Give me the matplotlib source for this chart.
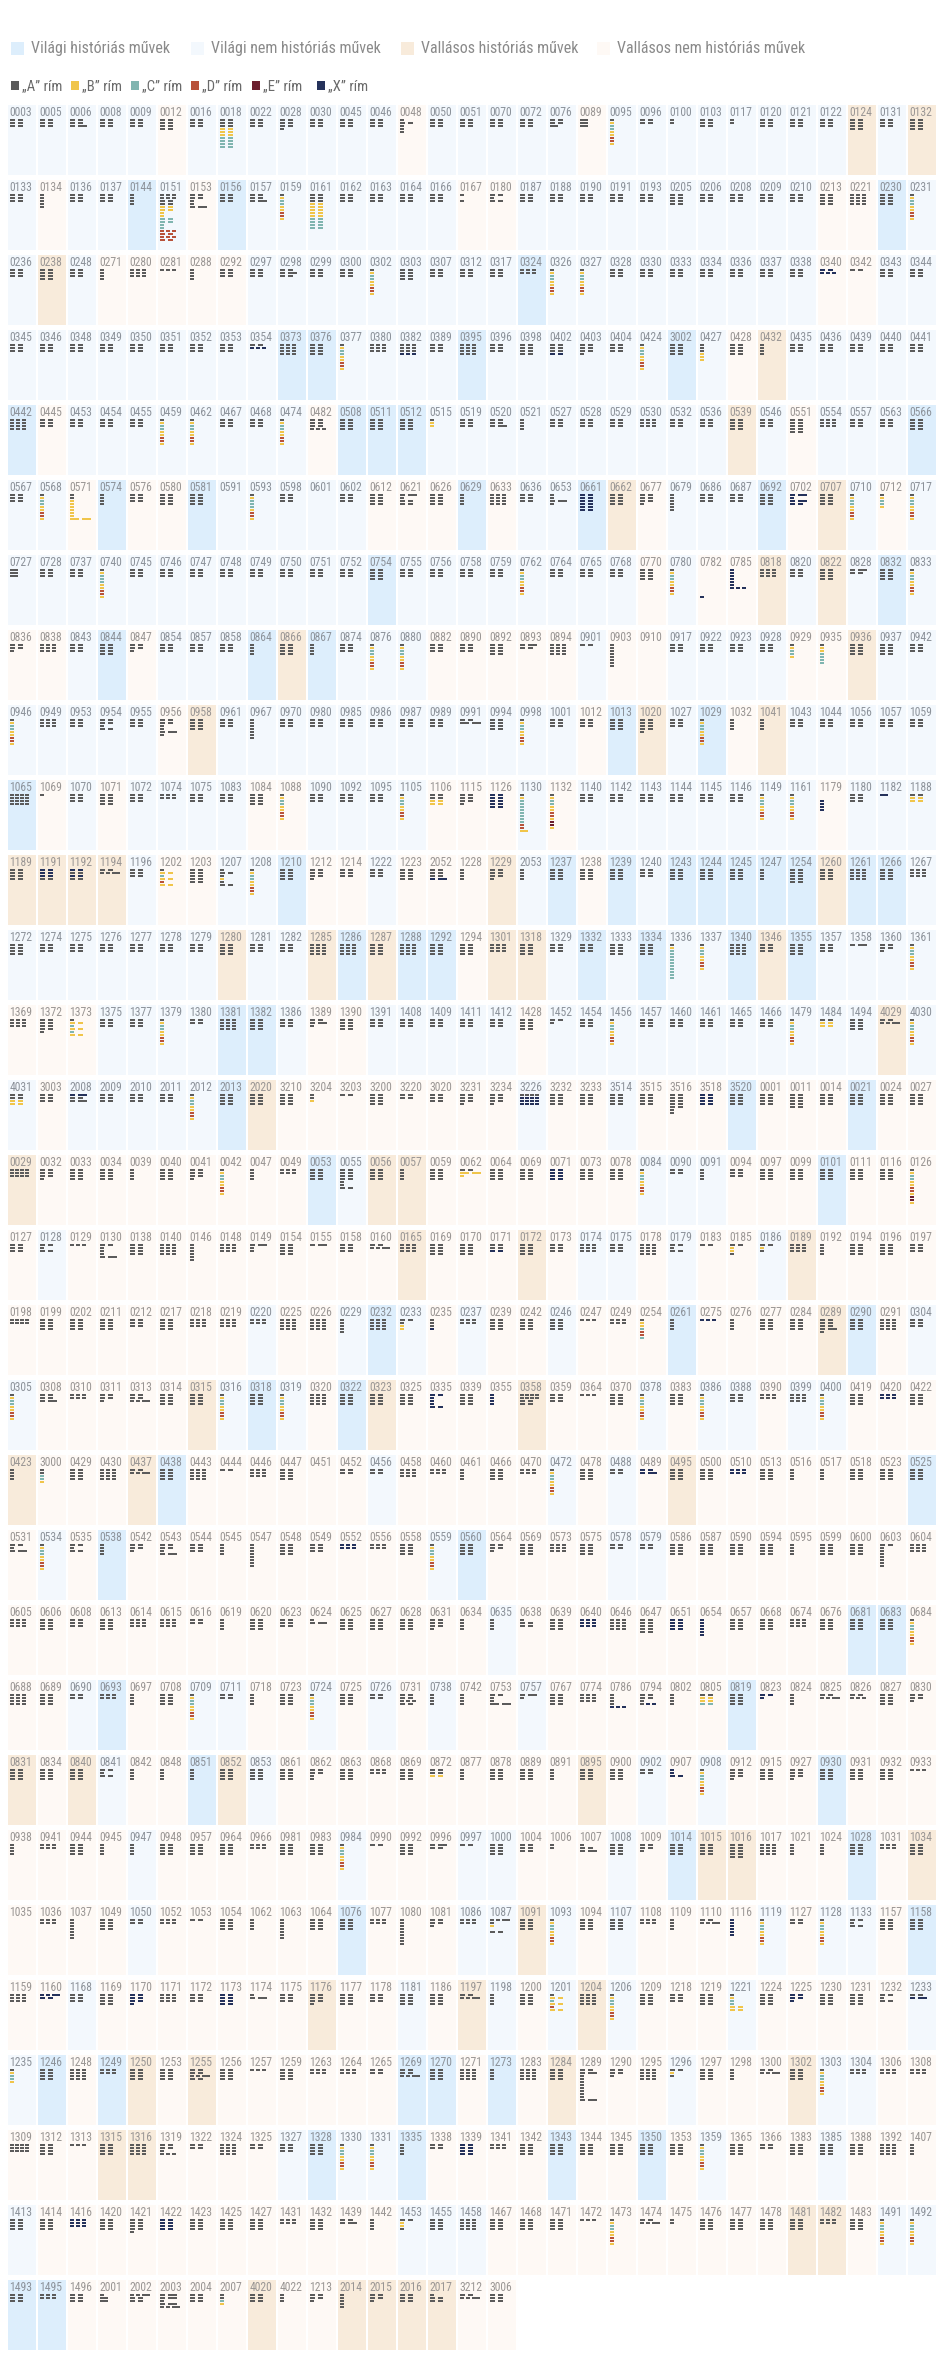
import matplotlib
matplotlib.use("Agg")
import matplotlib.pyplot as plt
from matplotlib import font_manager

# ---- data -------------------------------------------------------------
CAT_NAMES = ["Világi históriás művek", "Világi nem históriás művek",
             "Vallásos históriás művek", "Vallásos nem históriás művek"]
CAT_KEYS = ["H", "V", "R", "N"]
CAT_COLORS = {"H": "#ddeefc", "V": "#f3f8fd", "R": "#f8ebdb", "N": "#fef9f5"}

RHYME_NAMES = ["„A” rím", "„B” rím", "„C” rím", "„D” rím", "„E” rím", "„X” rím"]
RHYME_KEYS = ["a", "b", "c", "d", "e", "x"]
RHYME_COLORS = {"a": "#5b5b5b", "b": "#f0c54a", "c": "#80b5b0",
                "d": "#b8523a", "e": "#6b1e2e", "x": "#25325b"}

ST = "a/b/c/c/b/b/d/d/b"   # the frequent coloured stack

LABELS = [
    "0003 0005 0006 0008 0009 0012 0016 0018 0022 0028 0030 0045 0046 0048 0050 0051 0070 0072 0076 0089 0095 0096 0100 0103 0117 0120 0121 0122 0124 0131 0132",
    "0133 0134 0136 0137 0144 0151 0153 0156 0157 0159 0161 0162 0163 0164 0166 0167 0180 0187 0188 0190 0191 0193 0205 0206 0208 0209 0210 0213 0221 0230 0231",
    "0236 0238 0248 0271 0280 0281 0288 0292 0297 0298 0299 0300 0302 0303 0307 0312 0317 0324 0326 0327 0328 0330 0333 0334 0336 0337 0338 0340 0342 0343 0344",
    "0345 0346 0348 0349 0350 0351 0352 0353 0354 0373 0376 0377 0380 0382 0389 0395 0396 0398 0402 0403 0404 0424 3002 0427 0428 0432 0435 0436 0439 0440 0441",
    "0442 0445 0453 0454 0455 0459 0462 0467 0468 0474 0482 0508 0511 0512 0515 0519 0520 0521 0527 0528 0529 0530 0532 0536 0539 0546 0551 0554 0557 0563 0566",
    "0567 0568 0571 0574 0576 0580 0581 0591 0593 0598 0601 0602 0612 0621 0626 0629 0633 0636 0653 0661 0662 0677 0679 0686 0687 0692 0702 0707 0710 0712 0717",
    "0727 0728 0737 0740 0745 0746 0747 0748 0749 0750 0751 0752 0754 0755 0756 0758 0759 0762 0764 0765 0768 0770 0780 0782 0785 0818 0820 0822 0828 0832 0833",
    "0836 0838 0843 0844 0847 0854 0857 0858 0864 0866 0867 0874 0876 0880 0882 0890 0892 0893 0894 0901 0903 0910 0917 0922 0923 0928 0929 0935 0936 0937 0942",
    "0946 0949 0953 0954 0955 0956 0958 0961 0967 0970 0980 0985 0986 0987 0989 0991 0994 0998 1001 1012 1013 1020 1027 1029 1032 1041 1043 1044 1056 1057 1059",
    "1065 1069 1070 1071 1072 1074 1075 1083 1084 1088 1090 1092 1095 1105 1106 1115 1126 1130 1132 1140 1142 1143 1144 1145 1146 1149 1161 1179 1180 1182 1188",
    "1189 1191 1192 1194 1196 1202 1203 1207 1208 1210 1212 1214 1222 1223 2052 1228 1229 2053 1237 1238 1239 1240 1243 1244 1245 1247 1254 1260 1261 1266 1267",
    "1272 1274 1275 1276 1277 1278 1279 1280 1281 1282 1285 1286 1287 1288 1292 1294 1301 1318 1329 1332 1333 1334 1336 1337 1340 1346 1355 1357 1358 1360 1361",
    "1369 1372 1373 1375 1377 1379 1380 1381 1382 1386 1389 1390 1391 1408 1409 1411 1412 1428 1452 1454 1456 1457 1460 1461 1465 1466 1479 1484 1494 4029 4030",
    "4031 3003 2008 2009 2010 2011 2012 2013 2020 3210 3204 3203 3200 3220 3020 3231 3234 3226 3232 3233 3514 3515 3516 3518 3520 0001 0011 0014 0021 0024 0027",
    "0029 0032 0033 0034 0039 0040 0041 0042 0047 0049 0053 0055 0056 0057 0059 0062 0064 0069 0071 0073 0078 0084 0090 0091 0094 0097 0099 0101 0111 0116 0126",
    "0127 0128 0129 0130 0138 0140 0146 0148 0149 0154 0155 0158 0160 0165 0169 0170 0171 0172 0173 0174 0175 0178 0179 0183 0185 0186 0189 0192 0194 0196 0197",
    "0198 0199 0202 0211 0212 0217 0218 0219 0220 0225 0226 0229 0232 0233 0235 0237 0239 0242 0246 0247 0249 0254 0261 0275 0276 0277 0284 0289 0290 0291 0304",
    "0305 0308 0310 0311 0313 0314 0315 0316 0318 0319 0320 0322 0323 0325 0335 0339 0355 0358 0359 0364 0370 0378 0383 0386 0388 0390 0399 0400 0419 0420 0422",
    "0423 3000 0429 0430 0437 0438 0443 0444 0446 0447 0451 0452 0456 0458 0460 0461 0466 0470 0472 0478 0488 0489 0495 0500 0510 0513 0516 0517 0518 0523 0525",
    "0531 0534 0535 0538 0542 0543 0544 0545 0547 0548 0549 0552 0556 0558 0559 0560 0564 0569 0573 0575 0578 0579 0586 0587 0590 0594 0595 0599 0600 0603 0604",
    "0605 0606 0608 0613 0614 0615 0616 0619 0620 0623 0624 0625 0627 0628 0631 0634 0635 0638 0639 0640 0646 0647 0651 0654 0657 0668 0674 0676 0681 0683 0684",
    "0688 0689 0690 0693 0697 0708 0709 0711 0718 0723 0724 0725 0726 0731 0738 0742 0753 0757 0767 0774 0786 0794 0802 0805 0819 0823 0824 0825 0826 0827 0830",
    "0831 0834 0840 0841 0842 0848 0851 0852 0853 0861 0862 0863 0868 0869 0872 0877 0878 0889 0891 0895 0900 0902 0907 0908 0912 0915 0927 0930 0931 0932 0933",
    "0938 0941 0944 0945 0947 0948 0957 0964 0966 0981 0983 0984 0990 0992 0996 0997 1000 1004 1006 1007 1008 1009 1014 1015 1016 1017 1021 1024 1028 1031 1034",
    "1035 1036 1037 1049 1050 1052 1053 1054 1062 1063 1064 1076 1077 1080 1081 1086 1087 1091 1093 1094 1107 1108 1109 1110 1116 1119 1127 1128 1133 1157 1158",
    "1159 1160 1168 1169 1170 1171 1172 1173 1174 1175 1176 1177 1178 1181 1186 1197 1198 1200 1201 1204 1206 1209 1218 1219 1221 1224 1225 1230 1231 1232 1233",
    "1235 1246 1248 1249 1250 1253 1255 1256 1257 1259 1263 1264 1265 1269 1270 1271 1273 1283 1284 1289 1290 1295 1296 1297 1298 1300 1302 1303 1304 1306 1308",
    "1309 1312 1313 1315 1316 1319 1322 1324 1325 1327 1328 1330 1331 1335 1338 1339 1341 1342 1343 1344 1345 1350 1353 1359 1365 1366 1383 1385 1388 1392 1407",
    "1413 1414 1416 1420 1421 1422 1423 1425 1427 1431 1432 1439 1442 1453 1455 1458 1467 1468 1471 1472 1473 1474 1475 1476 1477 1478 1481 1482 1483 1491 1492",
    "1493 1495 1496 2001 2002 2003 2004 2007 4020 4022 1213 2014 2015 2016 2017 3212 3006",
]

# H = világi históriás, V = világi nem hist., R = vallásos hist., N = vallásos nem hist.
CATEGORIES = [
    "VVVVVNVVVVVVVNVVVVVNVVVVVVVVRVR",
    "VNVVHVNHVVVVVVVNNVVVVVVVVVVNNHV",
    "VRVNNNNNVVVVVVVVVHVVVVVVVVVNNVV",
    "VVVVVVVVVHHVVVVHVVVVVVHVNRVVVVV",
    "HNVVVVVVVVNHHHVVVVVVVVVVRVNVVVH",
    "VVNHNNHVVVVVNNNHNVVHRNVVVHNRVNV",
    "VVVVVVVVVVVVHVVVVVVVVNVNNRVRVHV",
    "NNVHNVVVHRHVVVNNNNNVNNVVVVNNRVV",
    "VVVVVNRVVVVVVVVVVVVNHRVHNRVVVVV",
    "HNVNVVVVNNVVVVNNNVNVVVVVVVVNVVV",
    "RRRRVNNVVHNNVNNNRVHNHVHHHHHRHHV",
    "VVVVVVVRVVRHRHHNRRVHVHVVHRHVVVV",
    "NNNVVVVHHVNNVVVVVNVVVVVVVVVVVRV",
    "VNVVVVVHRNNNNNNNNVNNVNNNHNNNHNN",
    "RNNNNNNNNNHVRRNNNNNNNVVVNNNHNNN",
    "NVNNNNNNNNNNNRNNNRNVVNVNNVRNNNN",
    "NNNNNNNNVNNVHVNVNNVNNNHNNNNRHNV",
    "VNNNNNRVHVNHRNNNNRNNNVNVVNVVNNN",
    "RNNNRHNNNNNNVNNNNNVNVNRNNNNNNNH",
    "NVNHNNNNNNNNNNVHNNNNVVNNNNNNNNN",
    "NNNNNNNNNNNNNNNNVNNNNNNNNNNNHHN",
    "NNVHNNVVNNVNVNVNNVNNNNNNHNNNNNN",
    "RNRVNNHRVNNNNNNNNNNRNVNVNNNHNNN",
    "NNNNVNNNNNNVNNNVVNNNVNHRRNNNHNR",
    "NNNNVNNNNNNHNNNVVRVNVNNNNVNVVNH",
    "NNVNNNNNNNRNNVNRVNVRVNNNVNNNNNV",
    "VHNHRNRNNNNNNHHNHNRNNNVNNNRVVNN",
    "NNNRRNNNNVHVVHNNNNHNNHNVNNNVNNN",
    "VNNNNNNNNNNNNVVVNNNNNNNNNNRRNVV",
    "HHNNNNNNRNNRRRRNN",
]

# glyph code: rows split by "/", "pat*n" repeats a row, one letter = one
# segment coloured by its rhyme, capital = long segment, "." = empty row
GLYPHS = [
    ["aa*3", "aa*3", "aa*2/aA", "aa*3", "aa*3", "aa*4", "aa*3", "aa*3/bb*3/cc*4", "aa*3", "aa*3/a",
     "aa*3", "aa*3", "aa*3", "a/aa/a/a/a", "aa*3", "aa*3", "aa*3", "aa*3", "aa*2/A", "A*3",
     ST, "aa*2", "a*2", "aa*3", "a*2", "aa*3", "aa*3", "aa*3", "aa*4", "aa*3", "aa*4"],
    ["aa*3", "a*5", "aa*3", "aa*3", "a*4", "aaa*2/aa*2/bb*2/b*2/cc*2/c*2/ddd/dd/ddd/dd", "aa*2/a/a/aA",
     "aa*3", "aa*2/aA", ST, "aa*3/bb*5/cc*4", "aa*3", "aa*3", "aa*3", "aa*3", "a/./a", "aa/a/aa",
     "aa*3", "aa*3", "aa*3", "aa*3", "aa*3", "aa*4", "aa*3", "aa*3", "aa*3", "aa*3", "aa*4",
     "aaa*4", "aa*4", ST],
    ["aa*3", "aa*4", "aa*3", "a*4", "aaa*3", "aaa", "a*4", "aa*3", "aa*3", "aa/aA/aa", "aa*3",
     "aa*3", ST, "aa*4", "aa*3", "aa*3", "aa*3", "aaa*2", ST, ST, "aa*3", "aa*3", "aa*3",
     "aa*3", "aa*3", "aa*3", "aa*3", "xx/xxx", "aa", "aa*3", "aa*3"],
    ["aa*3", "aa*3", "aa*3", "aa*3", "aa*3", "aa*3", "aa*3", "aa*3", "aa/xxx", "aaa*4", "aa*4",
     ST, "aaa*3", "aaa*3/xxx", "aa*3", "aaa*4", "aa*3", "aa*4", "aa*3/xx", "aa*3/a", "aa*3", ST,
     "aa*4", "a/a/a/b/b/b", "aa*4", "a*4", "aa*3", "aa*3", "aa*3", "aa*3", "aa*3"],
    ["aaa*4", "aa*3", "aa*3", "aa*3", "aa*3", ST, ST, "aa*3", "aa*3", ST, "aa*3/aaa", "aa*4",
     "aa*4", "aa*4", "a/b/b", "aa*3", "aa*2/aA", "a*4", "aa*3", "aa*3", "aa*3", "aaa*3", "aa*3",
     "aa*3", "aa*4", "aa*3", "aa*5", "aaa*3", "aa*3", "aa*3", "aa*4"],
    ["aa*3", ST, "a/a/b/b/b/b/b/b/BB", "a*4", "aa*3", "aa*4", "aa*4", "", "a/b/c/c/c/b/d/d/b",
     "aa*3", "", "aa*3", "aa*4", "aA/a/aa/aa", "aa*4", "a*4", "aaa*4", "aa*3", "a/a/aA/a", "xx*6",
     "aa*4", "aa*3/a", "a*6", "aa*3", "aa*3", "aa*4", "xX/x/xX/xx", "aa*4", ST, "a/b/c/c/b", ST],
    ["A*3", "aa*3", "aa*3", "a/b/c/c/c/b/b/d/d/b", "aa*3", "aa*3", "aa*3", "aa*3", "aa*3", "aa*3",
     "aa*3", "aa*3", "aa*4", "aa*3", "aa*3", "aa*3", "aa*3", ST, "aa*3", "aa*3", "aa*3", "aa*4",
     ST, ".*9/x", "x*6/xxx", "aaa*3", "aa*3", "aa*4", "aA/aa", "aa*4", ST],
    ["aa*2/a", "aaa*3", "aa*3", "aa*4", "aa*2/a", "aa*3", "aa*3", "aa*3", "a*4", "aa*4", "a*4",
     "aa*3", ST, ST, "aa*3", "aa*3", "aa*4", "aA/aa", "aaa*4", "aa", "a*8", "", "aa*3", "aa*3",
     "aa*3", "aa*3", "a/b/c/c/b", "a/b/b/c/c/c/c", "aa*4", "aa*4", "aa*3"],
    [ST, "aaa*3", "aa*3", "aa*2/a/aa", "aa*3", "aa*2/a/a/aA/a", "aa*4", "aa*3", "a*7", "aa*3",
     "aa*3", "aa*3", "aa*3", "aa*3", "aa*3", "aa/AA", "aa*4", ST, "aa*3", "aa*3", "aa*4",
     "aa*3/aa/a", "aa*3", ST, "a*4", "a*4", "aa*3", "aa*3", "aa*3", "aa*3", "aa*3"],
    ["aaaa*4", "a", "aa*3", "aa*4", "aa*3", "aaa*2", "aa*3", "aa*3", "aa*4", ST, "aa*3", "aa*3",
     "aa*3", ST, "aa*2/bb*2", "aa*3/a", "xx*5", "a/b/c/c/c/c/c/c/c/c/d/d/B",
     "a/b/c/c/b/b/d/d/b/e/e/b", "aa*3", "aa*3", "aa*3", "aa*3", "aa*3", "aa*3", ST, ST,
     ".*2/x*4", "aa*3", "X", "aa/bb/bb"],
    ["aa*4", "xx/xx/xx/aa", "xx/aa/xx/aa", "aa/aaA", "aa*3", "a/bb/c/bb/d/bb", "aa*5",
     "a/aa/a/b/a/aa", ST, "aa*4", "aa*3/a", "aa*3", "aa*3", "aa*4", "aa*3/xX", "a*4", "aa*3/a",
     "a*4", "aa*4", "aa*4", "aa*4", "aa*3", "aa*4", "aa*4", "aa*4", "a*4", "aa*5", "aa*4",
     "aaa*4", "aa*4", "aaa*3"],
    ["aa*4", "aa*3", "aa*3", "aa*3", "aa*3", "aa*3", "aa*3", "aa*4", "aa*3", "aa*3", "aaa*4",
     "aaa*4", "aa*4", "aaa*4", "aa*4", "aa*4", "aaa*3", "aa*4", "aa*3", "aa*3", "aa*4", "aa*4",
     "a/b/c*10", ST, "aaa*4", "aa*3", "aa*4", "aa*3", "aA", "aa/aa/a", ST],
    ["aaa*3", "aa*4/a", "a/bb/c/bb/c/bb", "aa*3", "aa*3", ST, "aa*2", "aaa*4", "aa*4", "aa*3",
     "aa/aA/a", "aa*4", "aa*3", "aa*3", "aa*3", "aa*3", "aa*3", "aa*4", "aa/a", "aa*3", ST,
     "aa*3", "aa*3", "aa*3", "aa*3", "aa*3", ST, "aa/bb/bb", "aa*4", "aa/aaA", ST],
    ["aa/aa/bb/bb", "aa*3", "xX/aa/aA", "aa*3", "aa*3", "aa*3", ST, "aa*4", "aa*4", "aa*4",
     "a/a/b", "aa", "aa*4", "aa*2", "aa*3", "aa*3/a", "aa*3/a", "aaaa/xxxx*3", "aa*4", "aa*4",
     "aa*4", "aa*4", "aa*5/a/a", "xx*4", "aa*4", "aa*4", "aa*5", "aa*4", "aa*4", "aa*4", "aa*4"],
    ["aaaa*3", "aa*3/a", "aa*4", "aa*4", "a*4", "aa*4", "aa*3/a", ST, "a*4", "aaa*2", "aa*4",
     "aa*4/a/a/aa", "aa*4", "a*4", "aa*4", "aa/BB/b", "aa*4", "aa*4", "xx*4", "aa*4", "aa*4", ST,
     "aa*2", "a*4", "aa*3", "aa*4", "aa*4", "aa*4", "aa*4", "aa*4", "a/b/c/c/b/b/d/d/b/e/e/b"],
    ["aa*3", "aa/a/aa", "aaa", "aa/a/a/a/aA", "aa*4", "aaa*4", "a*6", "aaa*3", "aA/a/a", "aa*4",
     "aA", "aa*3", "aa/aaA", "aaa*3", "aa*4", "aa*4", "aa/aa/xx", "aa*4", "aa*3", "aaa*3",
     "aa*3", "aaa*4", "aa/a/aa", "aa", "aa/b/b/a", "aa/b/a", "aaa*3", "a*4", "aa*4", "aa*4",
     "aa*3"],
    ["aaaa*2", "aa*4", "aa*4", "aa*4", "aa*3", "aa*4", "aaa*3", "aaa*3", "aaa*2", "aaa*4",
     "aaa*4", "a*5", "aaa*4", "aa/a/b/b", "a/a/a/x", "aaa*2", "aa*4", "aa*4", "aa*4", "aaa",
     "aaa*2", "a/b/b/c/d/d/c", "a*4", "xxx", "a*4", "aa*4", "aa*4", "aa*3/aA/a", "aa*4",
     "aaa*4", "aa*3"],
    [ST, "aa/aa/aA", "aaa*2", "aa/aa/a", "aa/aa/aaA", "aa*4", "aa*4", ST, "aa*4", ST, "aaa*4",
     "aa*4", "aa*4", "aa*4", "xx/x/x/x/xx", "aa*4", "x*4", "aaaa/aaaa/aa/aa", "aa*3", "aaa",
     "aa*4", ST, "aa*4", ST, "aa*3", "aaa*2", "aaa*3", ST, "aa*4", "xxx*2", "aa*4"],
    ["a*4", "a/a/c/c/b", "aa*4", "aaa*4", "aa/aaA", "aa*4", "aaa*4", "aa", "aaa*3", "aa*4", "",
     "aa*2", "aa*2", "aaa*3", "aaa*2", "a*4", "aa*4", "aaa*2", ST, "aa*4", "aa*2", "xx/xX",
     "aa*4", "aa*4", "xxx*2", "aa*4", "a*4", "a*4", "aa*4", "aa*4", "aa*4"],
    ["aa/a/aA", ST, "aa/a/aa", "a*4", "aa/aa/a", "aa/aa/a/aA", "aa*3", "a*4", "a*8", "aa*4",
     "aa*3", "xxx*2", "aaa*2", "aa*4", ST, "aa*4", "aa/aa/a", "aa*4", "aaa*3", "aa*4", "aa*2",
     "aa*2", "aa*4", "aa*4", "aa*4", "aa*4", "a*4", "aa*4", "aa*4", "aa/a*7", "aaa*3"],
    ["aaa*3", "aa*4", "aa*3", "aa*4", "aaa*3", "aaa*3", "aa*2", "a*4", "aa*4", "aa*3", "a/aA",
     "aa*4", "aa*4", "aa*4", "aa*3/a", "a*4", "a*4", "a/aa/aa", "aa*4", "xxx*3", "aaa*4", "aa*5",
     "xx*4", "x*6", "aa*4", "aa*4", "aaa*3", "aa*4", "aa*4", "aa*4", ST],
    ["aaa*4", "aa*4", "aa*2", "aaa*2", "a*4", "aa*4", ST, "aa*2", "a*4", "aa*4", ST, "aa*4",
     "aa*2", "aa/aa/aaa/aa", "a*4", "a*4", "aa/a/a/AA", "aA/a", "aa*4", "aaa*3", "a/a/a/a/xxx",
     "aa/aa/a/axx", "a*4", "aa/bb/bb/cc", "aa*4", "xx/x", "a*4", "aa/aaA", "aa/aaa", "aa*4",
     "aa/aa/a"],
    ["aa*4", "aa*4", "aa*4", "aa/a/aa", "a*4", "a*4", "a*4", "aa*4", "aa*4", "aa*4",
     "aa/aa/a/a", "aa*4", "aaa*2", "aa*4", "aa/aa/bb", "a*4", "aa*4", "aa*4", "a*4", "aa*4",
     "aa*4", "aa*2", "x/x/xx", ST, "aa*3/a", "aa*4", "aa*3/a", "aa*4", "aa*4", "aa*4", "aaa"],
    ["a*4", "aaa*2", "aa*4", "a*4", "a*4", "aa*4", "aa*4", "aa*4", "aaa*2", "aa*4", "aa*4", ST,
     "aa", "aa*4", "aA/aa", "aa", "aa*4", "aa*3", "a*2", "a/aa/aA", "aa*4", "aa/aa/a", "aa*4",
     "aa*4", "aa*5", "aaa*4", "a*4", "a*4", "aa*4", "aaa*2", "aa*4"],
    ["", "aaa*2", "a*7", "aa*4", "aa*2", "aaa*2", "aa", "aa*4", "a*4", "a*7", "aa*4", "aa*4",
     "aaa*2", "a*9", "aa/aa/a", "aaa*2", "aaA/a/b/./aa", "aa*4", ST, "aa*4", "aa*4", "aaa*2",
     "a*4", "aa/aaA", "x*6", ST, "aa*2", ST, "aa/a/aa", "aa*4", "aa*4"],
    ["aaa*3", "xxX/xx", "aa*3", "aa*4", "xx*3/x", "aaa*3", "aa*3", "xx*4", "a/aA", "aa*3",
     "aa*3/a", "aa*4", "aa*3", "aa*4", "aa*4", "aa/aaA", "a*4", "aa*4", "a/bb/c/bb/d/bb",
     "aaa*4", ST, "aa*4", "aa/aa/aa", "aa*4", "a/b/c/c/bb/bb", "aa*4", "xx/xx/x", "aa*4",
     "aa*4", "aa/a/aa", "aa/xX"],
    ["a/b/c/c/b", "aa*4", "aaa*4", "aaa*2", "aa*4", "aa*4", "aa/aa/aaA/aa", "aa*4", "aaa",
     "aa*4", "aaa*2", "aaa*2", "aa*2", "aa/aa/aaA", "aa*4", "aaa*4", "a*4", "aaa*4", "aa*4",
     "aa/aA/a*8/aA", "aa/aa/a", "aaa*4", "aa/b/a", "aa*4", "a*4", "aa/aaA", "aa*4", ST,
     "aaa*2", "aaa*2", "aaa*2"],
    ["aaaa*3", "aa*4", "aaa", "aa*4", "aaa*4", "aa/aa/a/aaa", "aa*2", "aaa*4", "aa*2", "aa*3",
     "aa*4", ST, ST, "a*4", "aa*2", "xx*4", "aaa*2", "aa*4", "aa*4", "aa*4", "aa*4", "aa*4",
     "aa*4", ST, "aa*4", "aa*2", "aa*4", "aa*4", "aa*4", "aaa*4", "a*4"],
    ["aa*4", "aa*4", "xxx*3", "aa*4", "aa*4/a", "xx*4", "aa*4", "aa*4", "aa*4", "aaa*2", "aa*4",
     "aa/aA", "a*4", "aa/b/b/a", "aa*4", "aaa*4", "aa*4", "aa*4", "aa*4", "aaa", ST, "aa/aaA",
     "a/a", "aa*4", "aa*4", "aa*4", "aa*4", "aaa*2", "aa*4", ST, ST],
    ["aa*3", "aaa*2", "aa*3", "a/A/A", "aaA/aa/aa", "aA/aA/a/aA/aaA", "aa*3", "a/a/c/b", "aa*3",
     "a*3", "aa/aa/a", "a*5", "aa/aa/a", "aa*3", "a/aa/aa", "aa/aaA", "aa*3"],
]

# ---- layout (pixels) --------------------------------------------------
FIG_W, FIG_H = 940, 2371
NCOL = 31
X0, Y0 = 8, 105
PITCH_X, PITCH_Y = 30, 75
CELL_W, CELL_H = 28, 70
SEG = {1: (4.0, 0.0), 2: (5.0, 3.0), 3: (4.0, 2.0), 4: (3.5, 1.5)}

# narrow sans if one is there, else DejaVu (text gets squeezed to fit below)
_have = {f.name for f in font_manager.fontManager.ttflist}
FONT = [f for f in ["Roboto Condensed", "Liberation Sans Narrow", "Open Sans Condensed",
                    "DejaVu Sans Condensed"] if f in _have] + ["DejaVu Sans"]
_dv_cond = any(f.name == "DejaVu Sans" and "ondensed" in str(f.stretch)
               for f in font_manager.fontManager.ttflist)
STRETCH = "condensed" if (FONT[0] == "DejaVu Sans" and _dv_cond) else "normal"


def parse_glyph(code):
    rows = []
    if not code:
        return rows
    for tok in code.split("/"):
        if "*" in tok:
            pat, n = tok.split("*")
            rows += [pat] * int(n)
        else:
            rows.append(tok)
    return rows


fig = plt.figure(figsize=(FIG_W / 100, FIG_H / 100), dpi=100)
ax = fig.add_axes([0, 0, 1, 1])
ax.set_xlim(0, FIG_W)
ax.set_ylim(FIG_H, 0)
ax.axis("off")
renderer = fig.canvas.get_renderer()


def fit_text(x, y, s, size, color, max_w):
    t = ax.text(x, y, s, fontsize=size, color=color, va="center", ha="left",
                family=FONT, stretch=STRETCH)
    w = t.get_window_extent(renderer).width
    if w > max_w:
        t.set_fontsize(size * max_w / w)
    return t


# ── legend ──
leg1_x = [11, 191, 401, 597]
leg1_end = [178, 388, 583, 811]
for lx, le, key, name in zip(leg1_x, leg1_end, CAT_KEYS, CAT_NAMES):
    ax.bar(lx, 13, width=13, bottom=42, align="edge", color=CAT_COLORS[key], linewidth=0)
    fit_text(lx + 20, 48.5, name, 11.5, "#8a8a8a", le - lx - 20)
leg2_x = [11, 71, 131, 191, 252, 317]
for lx, key, name in zip(leg2_x, RHYME_KEYS, RHYME_NAMES):
    ax.bar(lx, 9, width=8, bottom=81, align="edge", color=RHYME_COLORS[key], linewidth=0)
    fit_text(lx + 11, 86, name, 10.5, "#6a6a6a", 42)

# ── cells ──
cell_x, cell_y, cell_c = [], [], []
bars = {k: ([], [], []) for k in RHYME_KEYS}
for r, (labs, cats, glyphs) in enumerate(zip(LABELS, CATEGORIES, GLYPHS)):
    labs = labs.split()
    for c, lab in enumerate(labs):
        x = X0 + c * PITCH_X
        y = Y0 + r * PITCH_Y
        cat = cats[c] if c < len(cats) else "N"
        cell_x.append(x)
        cell_y.append(y)
        cell_c.append(CAT_COLORS[cat])
        txt_col = "#8c929a" if cat in "HV" else "#9a9694"
        ax.text(x + 1.5, y + 7.5, lab, fontsize=8.4, color=txt_col, va="center", ha="left",
                family=FONT, stretch=STRETCH)
        code = glyphs[c] if c < len(glyphs) else ""
        for i, row in enumerate(parse_glyph(code)):
            segs = [s for s in row if s != "."]
            if not segs:
                continue
            w, gap = SEG.get(len(segs), (3.0, 1.0))
            bx = x + 2
            by = y + 14 + i * 3
            for s in segs:
                bw = w + (4 if s.isupper() else 0)
                k = s.lower()
                bars[k][0].append(bx)
                bars[k][1].append(bw)
                bars[k][2].append(by)
                bx += bw + gap

ax.bar(cell_x, CELL_H, width=CELL_W, bottom=cell_y, align="edge", color=cell_c, linewidth=0)
for k, (bx, bw, by) in bars.items():
    if bx:
        ax.bar(bx, 2, width=bw, bottom=by, align="edge", color=RHYME_COLORS[k], linewidth=0)

fig.savefig("out.png", dpi=100)
